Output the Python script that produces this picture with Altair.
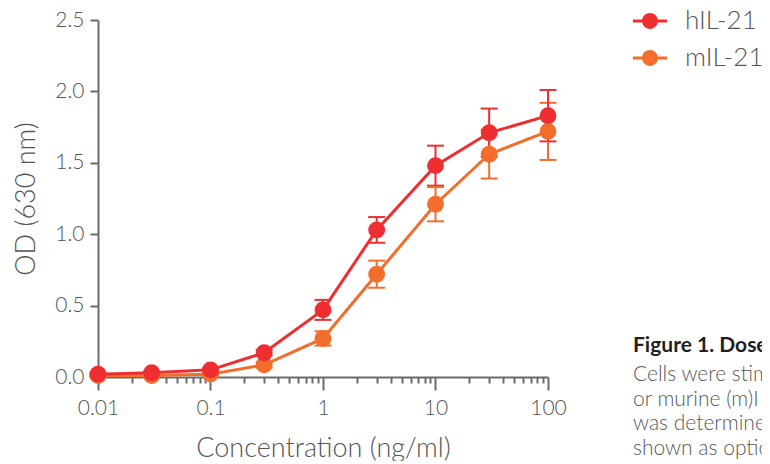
import altair as alt
import pandas as pd

# ---- data ----
conc = [0.01, 0.03, 0.1, 0.3, 1, 3, 10, 30, 100]
series = ["hIL-21", "mIL-21"]
h_mean = [0.02, 0.03, 0.05, 0.17, 0.47, 1.03, 1.48, 1.71, 1.83]
h_sd = [0.01, 0.01, 0.01, 0.02, 0.07, 0.09, 0.14, 0.17, 0.18]
m_mean = [0.01, 0.01, 0.02, 0.085, 0.27, 0.72, 1.21, 1.56, 1.72]
m_sd = [0.01, 0.01, 0.01, 0.02, 0.05, 0.095, 0.12, 0.17, 0.20]

major_ticks = [0.01, 0.1, 1, 10, 100]
minor_ticks = [0.02, 0.03, 0.04, 0.05, 0.06, 0.07, 0.08, 0.09,
               0.2, 0.3, 0.4, 0.5, 0.6, 0.7, 0.8, 0.9,
               2, 3, 4, 5, 6, 7, 8, 9,
               20, 30, 40, 50, 60, 70, 80, 90]
y_ticks = [0.0, 0.5, 1.0, 1.5, 2.0, 2.5]

x_title = "Concentration (ng/ml)"
y_title = "OD (630 nm)"
caption_title = "Figure 1. Dose"
caption_lines = ["Cells were stim", "or murine (m)I", "was determine", "shown as optic"]

RED = "#EE2E31"
ORANGE = "#F36E2C"
AXIS = "#6b6b6b"
TEXT = "#555555"
FONT = "Lato"

rows = []
for name, means, sds in [("mIL-21", m_mean, m_sd), ("hIL-21", h_mean, h_sd)]:
    for c, mv, s in zip(conc, means, sds):
        rows.append({"conc": c, "series": name, "od": mv,
                     "lo": max(mv - s, 0), "hi": mv + s})
df = pd.DataFrame(rows)

xscale = alt.Scale(type="log", domain=[0.01, 100], nice=False)
yscale = alt.Scale(domain=[0, 2.5], nice=False, zero=True)
cscale = alt.Scale(domain=series, range=[RED, ORANGE])

legend_path = ("M-0.95,-0.085L0.95,-0.085L0.95,0.085L-0.95,0.085Z"
               "M-0.44,0A0.44,0.44,0,1,1,0.44,0A0.44,0.44,0,1,1,-0.44,0Z")

yaxis = alt.Axis(values=y_ticks, format=".1f", tickSize=8, labelPadding=6,
                 title=y_title, titlePadding=14, grid=False, orient="left")

major_axis = alt.Axis(values=major_ticks, labelExpr="format(datum.value, '~g')",
                      tickSize=13, labelPadding=7, labelFlush=False,
                      labelOverlap=False, title=x_title, titlePadding=17,
                      grid=False, orient="bottom")
minor_axis = alt.Axis(values=minor_ticks, tickSize=6, labels=False,
                      domain=False, title=None, grid=False, orient="bottom")

legend = alt.Legend(title=None, orient="none", legendX=534, legendY=-17,
                    symbolType=legend_path, symbolSize=1296,
                    symbolStrokeWidth=0, symbolOpacity=1,
                    labelFont=FONT, labelFontSize=26,
                    labelFontWeight=300, labelColor=TEXT, labelOffset=17,
                    rowPadding=6, padding=0)

color = alt.Color("series:N", scale=cscale, legend=legend)

base = alt.Chart(df)

errbars = base.mark_errorbar(ticks=True, size=17, thickness=2, opacity=1).encode(
    x=alt.X("conc:Q", scale=xscale, axis=None),
    y=alt.Y("lo:Q", scale=yscale, axis=yaxis),
    y2="hi:Q",
    color=color,
)

lines = base.mark_line(strokeWidth=3).encode(
    x=alt.X("conc:Q", scale=xscale, axis=minor_axis),
    y=alt.Y("od:Q", scale=yscale, axis=yaxis),
    color=color,
    detail="series:N",
)

points = base.mark_circle(size=285, opacity=1).encode(
    x=alt.X("conc:Q", scale=xscale, axis=major_axis),
    y=alt.Y("od:Q", scale=yscale, axis=yaxis),
    color=color,
)

cap_title = alt.Chart(pd.DataFrame({"t": [caption_title]})).mark_text(
    align="left", baseline="alphabetic", font=FONT, fontSize=21,
    fontWeight="bold", color="#231f20"
).encode(text="t:N", x=alt.value(535), y=alt.value(332))

cap_body = alt.Chart(pd.DataFrame({"t": [caption_lines]})).mark_text(
    align="left", baseline="alphabetic", font=FONT, fontSize=21,
    fontWeight=300, color="#58595b", lineHeight=24.5
).encode(text="t", x=alt.value(535), y=alt.value(361))

chart = alt.layer(errbars, lines, points, cap_title, cap_body).resolve_axis(
    x="independent"
).properties(
    width=450, height=357,
    autosize=alt.AutoSizeParams(type="none"),
    padding={"left": 90, "top": 12, "right": 214, "bottom": 84},
).configure_view(stroke=None).configure_axis(
    domainColor=AXIS, domainWidth=2, tickColor=AXIS, tickWidth=2,
    labelFont=FONT, labelFontSize=21, labelFontWeight=300, labelColor=TEXT,
    titleFont=FONT, titleFontSize=27, titleFontWeight=300, titleColor=TEXT,
)

chart.save("out.html", embed_options={"renderer": "svg", "actions": False})
